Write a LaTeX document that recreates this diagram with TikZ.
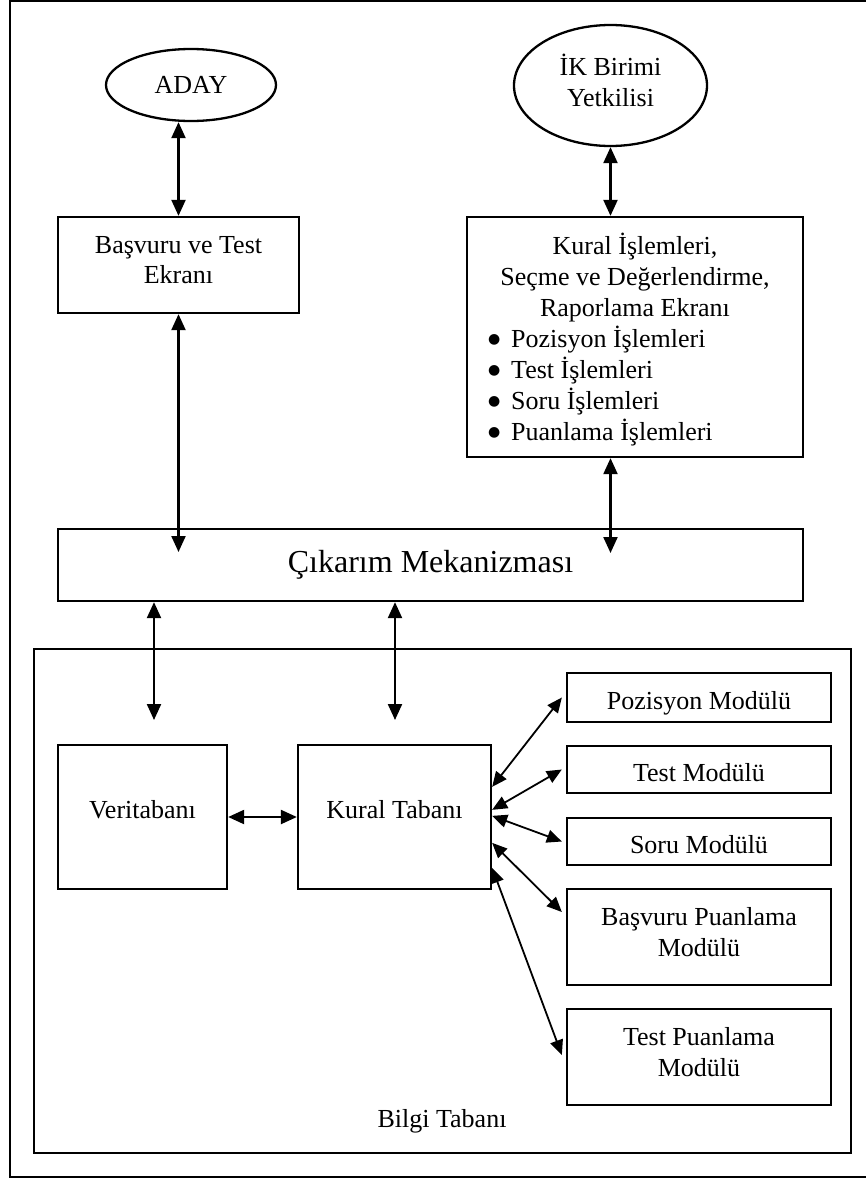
\documentclass[tikz,border=0pt]{standalone}
\usepackage{fontspec}
\setmainfont{Liberation Serif}
\newfontfamily\dotfont{DejaVu Sans}
\usetikzlibrary{arrows.meta,shapes.geometric,calc}

% one left-aligned bullet line inside the rule screen box
\newcommand{\kitem}[1]{\makebox[294pt][l]{\raisebox{4.5pt}{\dotfont\fontsize{14}{14}\selectfont ●}\hspace{11pt}#1}}

\begin{document}
\begin{tikzpicture}[x=1pt,y=-1pt,
  every node/.style={font=\fontsize{26}{30.5}\selectfont},
  box/.style={draw,line width=2.3pt,rectangle,inner sep=0pt,align=center},
  oval/.style={draw,line width=2.3pt,ellipse,inner sep=0pt,align=center},
  modbox/.style={box,minimum width=264pt},
  link/.style={line width=2.2pt,{Triangle[length=16pt,width=14pt]}-{Triangle[length=16pt,width=14pt]}},
  modlink/.style={line width=1.8pt,{Triangle[length=15pt,width=13pt]}-{Triangle[length=15pt,width=13pt]}},
]
\useasboundingbox (0,0) rectangle (865,1178);

% outer frame, its right side runs past the page edge
\draw[line width=2.3pt] (10,1) rectangle (900,1177);

% actors
\node[oval,minimum width=170pt,minimum height=72pt] (aday) at (191,85) {ADAY};
\node[oval,minimum width=193pt,minimum height=121pt,text depth=10pt] (ik) at (610.5,85.5) {İK Birimi\\Yetkilisi};

% screens
\node[box,minimum width=241pt,minimum height=96pt,text depth=10pt] (bas) at (178.5,265) {Başvuru ve Test\\Ekranı};
\node[box,minimum width=336pt,minimum height=240pt,text depth=0pt,
      font=\fontsize{26}{31}\selectfont] (kis) at (635,337)
  {Kural İşlemleri,\\Seçme ve Değerlendirme,\\Raporlama Ekranı\\
   \kitem{Pozisyon İşlemleri}\\\kitem{Test İşlemleri}\\
   \kitem{Soru İşlemleri}\\\kitem{Puanlama İşlemleri}};

% inference engine
\node[box,minimum width=745pt,minimum height=72pt,font=\fontsize{32}{36}\selectfont] (cik) at (430.5,565) {Çıkarım Mekanizması};

% knowledge base
\node[box,minimum width=817pt,minimum height=504pt] (bilgi) at (442.5,901) {};
\node[anchor=base] (bilgiad) at (442,1127) {Bilgi Tabanı};
\node[box,minimum width=169pt,minimum height=144pt,text height=18pt,text depth=16pt] (veri) at (142.5,817) {Veritabanı};
\node[box,minimum width=193pt,minimum height=144pt,text height=18pt,text depth=16pt] (kural) at (394.5,817) {Kural Tabanı};

% modules
\node[modbox,minimum height=49pt,text height=24pt,text depth=0pt] (poz) at (699,697.5) {Pozisyon Modülü};
\node[modbox,minimum height=47pt,text height=24pt,text depth=0pt] (testm) at (699,769.5) {Test Modülü};
\node[modbox,minimum height=47pt,text height=24pt,text depth=0pt] (soru) at (699,841.5) {Soru Modülü};
\node[modbox,minimum height=96pt,text depth=10pt] (bp) at (699,937) {Başvuru Puanlama\\Modülü};
\node[modbox,minimum height=96pt,text depth=10pt] (tp) at (699,1057) {Test Puanlama\\Modülü};

% free ends of the connectors
\coordinate (cikL) at (178.5,552);
\coordinate (cikR) at (610.5,553);
\coordinate (veriT) at (154,720);
\coordinate (kuralT) at (395,720);

% connectors
\draw[link] (bas.north) -- (aday.south -| bas.north);
\draw[link] (ik.south) -- (ik.south |- kis.north);
\draw[link] (bas.south) -- (cikL);
\draw[link] (kis.south -| cikR) -- (cikR);
\draw[link] (cik.south -| veriT) -- (veriT);
\draw[link] (cik.south -| kuralT) -- (kuralT);
\draw[link] (veri.east) -- (kural.west);

\draw[modlink] ($(kural.north east)+(0,43)$) -- ($(poz.west)+(-4,0)$);
\draw[modlink] ($(kural.north east)+(0,66)$) -- ($(testm.west)+(-4,0)$);
\draw[modlink] ($(kural.north east)+(0,72)$) -- ($(soru.west)+(-4,0)$);
\draw[modlink] ($(kural.north east)+(0,99)$) -- ($(bp.west)+(-4,-25)$);
\draw[modlink] ($(kural.north east)+(0,124)$) -- ($(tp.west)+(-4,-2)$);
\end{tikzpicture}
\end{document}
